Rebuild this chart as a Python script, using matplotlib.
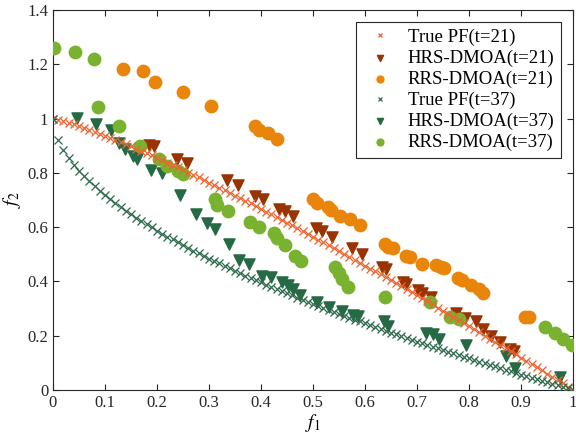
import matplotlib
matplotlib.use("Agg")
import matplotlib.pyplot as plt

plt.rcParams['font.family'] = ['Liberation Serif', 'DejaVu Serif']
plt.rcParams['mathtext.fontset'] = 'stix'

# --- true Pareto fronts ---
pf_x = [0.00, 0.01, 0.02, 0.03, 0.04, 0.05, 0.06, 0.07, 0.08, 0.09,
        0.10, 0.11, 0.12, 0.13, 0.14, 0.15, 0.16, 0.17, 0.18, 0.19,
        0.20, 0.21, 0.22, 0.23, 0.24, 0.25, 0.26, 0.27, 0.28, 0.29,
        0.30, 0.31, 0.32, 0.33, 0.34, 0.35, 0.36, 0.37, 0.38, 0.39,
        0.40, 0.41, 0.42, 0.43, 0.44, 0.45, 0.46, 0.47, 0.48, 0.49,
        0.50, 0.51, 0.52, 0.53, 0.54, 0.55, 0.56, 0.57, 0.58, 0.59,
        0.60, 0.61, 0.62, 0.63, 0.64, 0.65, 0.66, 0.67, 0.68, 0.69,
        0.70, 0.71, 0.72, 0.73, 0.74, 0.75, 0.76, 0.77, 0.78, 0.79,
        0.80, 0.81, 0.82, 0.83, 0.84, 0.85, 0.86, 0.87, 0.88, 0.89,
        0.90, 0.91, 0.92, 0.93, 0.94, 0.95, 0.96, 0.97, 0.98, 0.99, 1.00]
pf21_y = [1.000, 0.996, 0.991, 0.985, 0.979, 0.973, 0.966, 0.959, 0.952, 0.944,
          0.937, 0.929, 0.921, 0.914, 0.906, 0.897, 0.889, 0.881, 0.872, 0.864,
          0.855, 0.846, 0.837, 0.829, 0.820, 0.811, 0.801, 0.792, 0.783, 0.774,
          0.764, 0.755, 0.745, 0.736, 0.726, 0.716, 0.707, 0.697, 0.687, 0.677,
          0.667, 0.657, 0.647, 0.637, 0.627, 0.616, 0.606, 0.596, 0.586, 0.575,
          0.565, 0.554, 0.544, 0.533, 0.523, 0.512, 0.501, 0.491, 0.480, 0.469,
          0.458, 0.447, 0.437, 0.426, 0.415, 0.404, 0.393, 0.382, 0.370, 0.359,
          0.348, 0.337, 0.326, 0.315, 0.303, 0.292, 0.281, 0.269, 0.258, 0.246,
          0.235, 0.223, 0.212, 0.200, 0.189, 0.177, 0.166, 0.154, 0.142, 0.131,
          0.119, 0.107, 0.095, 0.083, 0.072, 0.060, 0.048, 0.036, 0.024, 0.012, 0.000]
pf37_y = [1.000, 0.921, 0.884, 0.855, 0.830, 0.808, 0.787, 0.768, 0.751, 0.734,
          0.718, 0.703, 0.688, 0.674, 0.661, 0.648, 0.635, 0.623, 0.611, 0.599,
          0.587, 0.576, 0.565, 0.555, 0.544, 0.534, 0.523, 0.513, 0.503, 0.494,
          0.484, 0.475, 0.466, 0.457, 0.448, 0.439, 0.430, 0.421, 0.413, 0.404,
          0.396, 0.388, 0.380, 0.372, 0.364, 0.356, 0.348, 0.340, 0.332, 0.325,
          0.317, 0.310, 0.302, 0.295, 0.288, 0.280, 0.273, 0.266, 0.259, 0.252,
          0.245, 0.238, 0.231, 0.225, 0.218, 0.211, 0.205, 0.198, 0.191, 0.185,
          0.178, 0.172, 0.165, 0.159, 0.153, 0.147, 0.140, 0.134, 0.128, 0.122,
          0.116, 0.110, 0.103, 0.097, 0.092, 0.086, 0.080, 0.074, 0.068, 0.062,
          0.056, 0.051, 0.045, 0.039, 0.033, 0.028, 0.022, 0.017, 0.011, 0.006, 0.000]

# --- HRS-DMOA (t=21) ---
hrs21_x = [0.185, 0.195, 0.238, 0.258, 0.334, 0.356, 0.388, 0.404, 0.435, 0.446,
           0.461, 0.505, 0.517, 0.537, 0.574, 0.595, 0.632, 0.641, 0.673, 0.679,
           0.701, 0.710, 0.726, 0.774, 0.792, 0.813, 0.826, 0.842, 0.860, 0.878, 0.886]
hrs21_y = [0.903, 0.897, 0.850, 0.835, 0.774, 0.755, 0.713, 0.703, 0.668, 0.658,
           0.640, 0.596, 0.586, 0.564, 0.522, 0.500, 0.454, 0.445, 0.399, 0.389,
           0.368, 0.356, 0.341, 0.283, 0.264, 0.255, 0.223, 0.200, 0.178, 0.152, 0.143]

# --- RRS-DMOA (t=21) ---
rrs21_x = [0.135, 0.174, 0.197, 0.249, 0.304, 0.388, 0.396, 0.414, 0.431,
           0.499, 0.508, 0.528, 0.534, 0.551, 0.571, 0.590, 0.638, 0.645, 0.654,
           0.679, 0.686, 0.710, 0.736, 0.746, 0.751, 0.779, 0.787, 0.803, 0.819,
           0.826, 0.908, 0.915]
rrs21_y = [1.183, 1.175, 1.134, 1.099, 1.048, 0.974, 0.958, 0.946, 0.924,
           0.705, 0.688, 0.673, 0.663, 0.641, 0.630, 0.609, 0.538, 0.528, 0.522,
           0.495, 0.488, 0.462, 0.459, 0.454, 0.450, 0.411, 0.403, 0.387, 0.372,
           0.356, 0.270, 0.270]

# --- HRS-DMOA (t=37) ---
hrs37_x = [0.047, 0.082, 0.112, 0.127, 0.138, 0.153, 0.162, 0.188, 0.210, 0.245,
           0.274, 0.297, 0.312, 0.338, 0.357, 0.376, 0.401, 0.419, 0.440, 0.451,
           0.462, 0.475, 0.508, 0.531, 0.556, 0.576, 0.587, 0.637, 0.645, 0.718,
           0.730, 0.742, 0.795, 0.871, 0.888, 0.974]
hrs37_y = [1.001, 0.980, 0.958, 0.909, 0.886, 0.862, 0.852, 0.811, 0.798, 0.718,
           0.648, 0.616, 0.594, 0.538, 0.479, 0.462, 0.420, 0.415, 0.399, 0.387,
           0.372, 0.350, 0.325, 0.307, 0.289, 0.276, 0.273, 0.252, 0.236, 0.211,
           0.205, 0.186, 0.166, 0.123, 0.080, 0.047]

# --- RRS-DMOA (t=37) ---
rrs37_x = [0.002, 0.042, 0.078, 0.087, 0.127, 0.167, 0.204, 0.220, 0.241, 0.250,
           0.311, 0.315, 0.336, 0.378, 0.397, 0.425, 0.431, 0.447, 0.465, 0.477,
           0.542, 0.549, 0.555, 0.568, 0.638, 0.724, 0.764, 0.780, 0.946, 0.965,
           0.980, 0.998]
rrs37_y = [1.259, 1.247, 1.220, 1.042, 0.973, 0.897, 0.851, 0.825, 0.808, 0.796,
           0.703, 0.682, 0.659, 0.618, 0.599, 0.579, 0.561, 0.534, 0.495, 0.474,
           0.452, 0.432, 0.408, 0.378, 0.341, 0.322, 0.268, 0.262, 0.232, 0.208,
           0.189, 0.166]

fig = plt.figure(figsize=(5.76, 4.37), dpi=100)
ax = fig.add_axes([0.092, 0.108, 0.903, 0.869])

ax.plot(pf_x, pf21_y, 'x', color='#EB6530', ms=5.5, mew=0.9, label='True PF(t=21)', zorder=4)
ax.scatter(hrs21_x, hrs21_y, marker='v', s=64, color='#993300', label='HRS-DMOA(t=21)', zorder=3)
ax.scatter(rrs21_x, rrs21_y, marker='o', s=80, color='#E8850A', label='RRS-DMOA(t=21)', zorder=3)
ax.plot(pf_x, pf37_y, 'x', color='#2F6A4B', ms=5.5, mew=0.9, label='True PF(t=37)', zorder=4)
ax.scatter(hrs37_x, hrs37_y, marker='v', s=64, color='#256A45', label='HRS-DMOA(t=37)', zorder=3)
ax.scatter(rrs37_x, rrs37_y, marker='o', s=80, color='#78B22E', label='RRS-DMOA(t=37)', zorder=3)

ax.set_xlim(0, 1)
ax.set_ylim(0, 1.4)
ax.set_xticks([0, 0.1, 0.2, 0.3, 0.4, 0.5, 0.6, 0.7, 0.8, 0.9, 1])
ax.set_xticklabels(['0', '0.1', '0.2', '0.3', '0.4', '0.5', '0.6', '0.7', '0.8', '0.9', '1'])
ax.set_yticks([0, 0.2, 0.4, 0.6, 0.8, 1, 1.2, 1.4])
ax.set_yticklabels(['0', '0.2', '0.4', '0.6', '0.8', '1', '1.2', '1.4'])
ax.tick_params(direction='in', top=True, right=True, labelsize=12, colors='#262626',
               length=4, width=0.8)
for sp in ax.spines.values():
    sp.set_color('#262626')
    sp.set_linewidth(0.8)

ax.set_xlabel('$f_1$', fontsize=14, labelpad=1)
ax.set_ylabel('$f_2$', fontsize=14, labelpad=3)

leg = ax.legend(loc='upper right', fontsize=13.5, frameon=True, fancybox=False,
                edgecolor='#262626', framealpha=1, borderpad=0.35, labelspacing=0.2,
                handletextpad=0.6, handlelength=1.8, markerscale=0.55,
                bbox_to_anchor=(0.977, 0.968), borderaxespad=0)
leg.get_frame().set_linewidth(0.8)

fig.savefig('out.png', dpi=100)
